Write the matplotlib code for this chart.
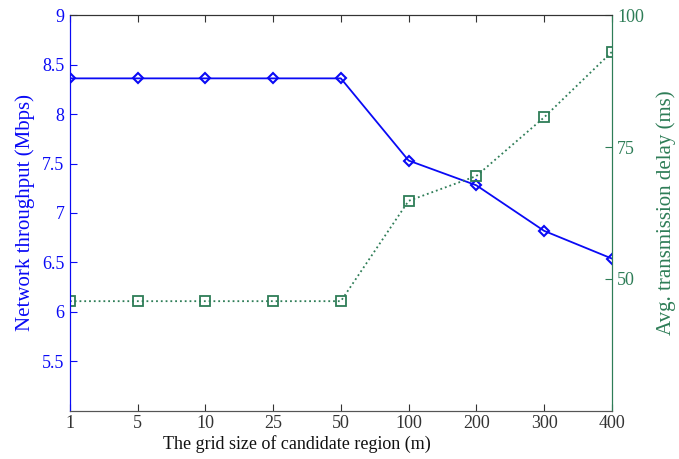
import matplotlib
matplotlib.use("Agg")
import matplotlib.pyplot as plt

# Данные графика
grid_sizes = ["1", "5", "10", "25", "50", "100", "200", "300", "400"]
throughput = [8.36, 8.36, 8.36, 8.36, 8.36, 7.53, 7.28, 6.82, 6.54]
delay = [45.8, 45.8, 45.8, 45.8, 45.8, 64.8, 69.5, 80.6, 93.0]

BLUE = "#0a0af5"
GREEN = "#2e7d57"

plt.rcParams["font.family"] = ["Liberation Serif", "DejaVu Serif"]

fig = plt.figure(figsize=(6.79, 4.59), dpi=100)
ax = fig.add_axes([0.103, 0.1046, 0.798, 0.8627])
ax2 = ax.twinx()

x = list(range(len(grid_sizes)))
ax.plot(x, throughput, color=BLUE, lw=1.3, marker="D", ms=5.5,
        mfc="none", mec=BLUE, mew=1.5)
ax2.plot(x, delay, color=GREEN, lw=1.3, ls=":", marker="s", ms=6.5,
         mfc="none", mec=GREEN, mew=1.3)

ax.set_xlim(0, len(grid_sizes) - 1)
ax.set_ylim(5, 9)
ax2.set_ylim(25, 100)
ax.set_xticks(x)
ax.set_xticklabels(grid_sizes)
ax.set_yticks([5.5, 6, 6.5, 7, 7.5, 8, 8.5, 9])
ax.set_yticklabels(["5.5", "6", "6.5", "7", "7.5", "8", "8.5", "9"])
ax2.set_yticks([50, 75, 100])

ax.tick_params(axis="x", direction="in", top=True, length=5, labelsize=13,
               colors="#333333", pad=3)
ax.tick_params(axis="y", direction="in", length=5, labelsize=13,
               colors=BLUE, pad=4)
ax2.tick_params(axis="y", direction="in", length=5, labelsize=13,
                colors=GREEN, pad=4)

ax.set_xlabel("The grid size of candidate region (m)", fontsize=13,
              color="#111111")
ax.xaxis.set_label_coords(0.419, -0.06)
ax.set_ylabel("Network throughput (Mbps)", fontsize=15, color=BLUE,
              labelpad=5)
ax2.set_ylabel("Avg. transmission delay (ms)", fontsize=15, color=GREEN,
               labelpad=9)

for a in (ax, ax2):
    a.spines["top"].set_color("#333333")
    a.spines["bottom"].set_color("#555555")
    a.spines["left"].set_color(BLUE)
    a.spines["right"].set_color(GREEN)

fig.savefig("out.png", dpi=100)
